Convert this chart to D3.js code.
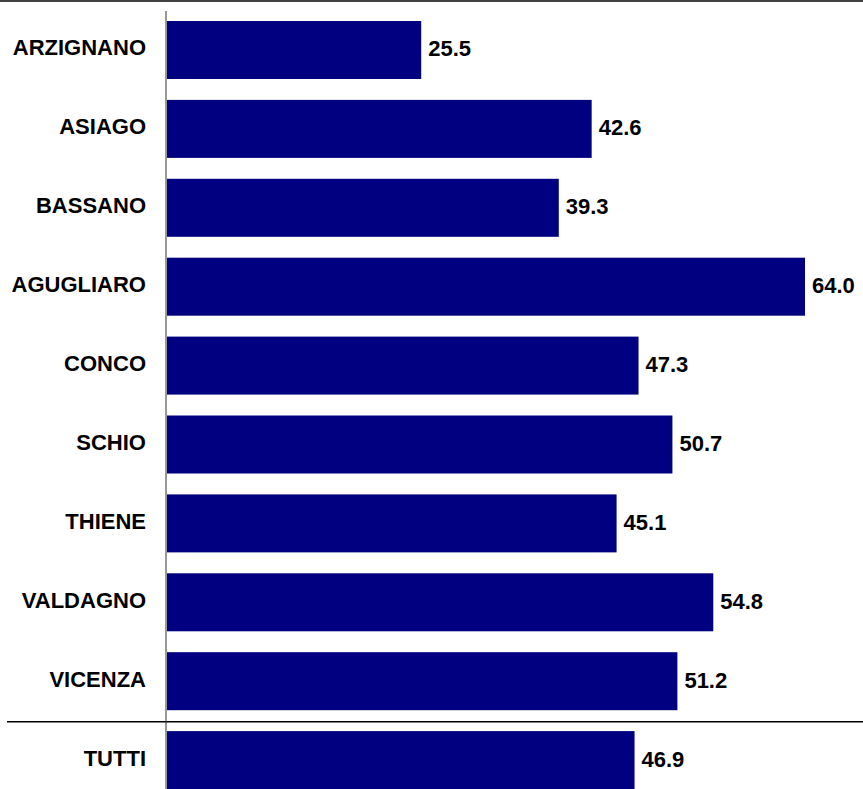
<!DOCTYPE html>
<html><head><meta charset="utf-8">
<script src="https://cdn.jsdelivr.net/npm/d3@7"></script>
<style>body{margin:0;background:#fff}svg{display:block}</style>
</head><body>
<script>
const categories = ["ARZIGNANO","ASIAGO","BASSANO","AGUGLIARO","CONCO","SCHIO","THIENE","VALDAGNO","VICENZA","TUTTI"];
const values = [25.5,42.6,39.3,64.0,47.3,50.7,45.1,54.8,51.2,46.9];

const W = 863, H = 789;
const svg = d3.select("body").append("svg").attr("width", W).attr("height", H);

const x = d3.scaleLinear().domain([0, 64]).range([167, 805]);
const step = 78.9, pi = 0.265, po = 0.2;
const y0 = 21 - po*step;
const y = d3.scaleBand().domain(categories)
  .range([y0, y0 + step*(categories.length - pi + 2*po)])
  .paddingInner(pi).paddingOuter(po);

svg.append("line").attr("x1",0).attr("x2",W).attr("y1",1).attr("y2",1).attr("stroke","#000").attr("stroke-width",1.5);

svg.selectAll("rect.bar").data(categories).join("rect")
  .attr("class","bar")
  .attr("x", x(0))
  .attr("y", d => y(d))
  .attr("width", (d,i) => x(values[i]) - x(0))
  .attr("height", y.bandwidth())
  .attr("fill", "#000080");

svg.selectAll("text.cat").data(categories).join("text")
  .attr("class","cat")
  .attr("x", 146)
  .attr("y", d => y(d) + y.bandwidth()/2 + 5.5)
  .attr("text-anchor","end")
  .attr("font-family","Liberation Sans, Arial, sans-serif")
  .attr("font-weight","bold")
  .attr("font-size", 22)
  .attr("fill","#000")
  .text(d => d);

svg.selectAll("text.val").data(categories).join("text")
  .attr("class","val")
  .attr("x", (d,i) => x(values[i]) + 7)
  .attr("y", d => y(d) + y.bandwidth()/2 + 6.5)
  .attr("font-family","Liberation Sans, Arial, sans-serif")
  .attr("font-weight","bold")
  .attr("font-size", 22)
  .attr("fill","#000")
  .text((d,i) => values[i].toFixed(1));

// separator before TUTTI
const sepY = (y("VICENZA") + y.bandwidth() + y("TUTTI"))/2 + 1;
svg.append("line").attr("x1",7).attr("x2",W).attr("y1",sepY).attr("y2",sepY).attr("stroke","#000").attr("stroke-width",1.5);

// vertical axis
svg.append("line").attr("x1",166).attr("x2",166).attr("y1",11).attr("y2",H).attr("stroke","#333").attr("stroke-width",1);
</script>
</body></html>
